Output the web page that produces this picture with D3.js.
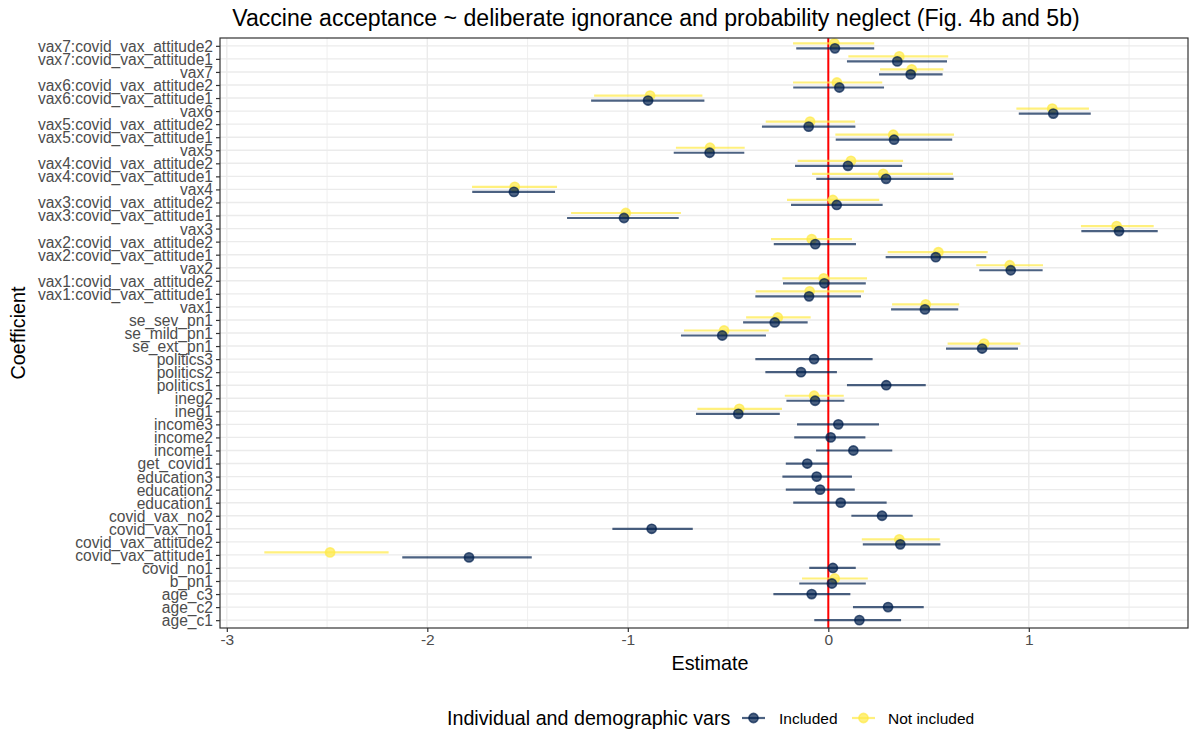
<!DOCTYPE html>
<html><head><meta charset="utf-8">
<script src="https://cdn.jsdelivr.net/npm/d3@7"></script>
<style>body{margin:0;background:#fff}svg{display:block;font-family:"Liberation Sans",Arial,sans-serif}</style>
</head><body><svg id="c" width="1203" height="733"></svg>
<script>
// categories, bottom to top
const categories = ["age_c1","age_c2","age_c3","b_pn1","covid_no1","covid_vax_attitude1","covid_vax_attitude2","covid_vax_no1","covid_vax_no2","education1","education2","education3","get_covid1","income1","income2","income3","ineg1","ineg2","politics1","politics2","politics3","se_ext_pn1","se_mild_pn1","se_sev_pn1","vax1","vax1:covid_vax_attitude1","vax1:covid_vax_attitude2","vax2","vax2:covid_vax_attitude1","vax2:covid_vax_attitude2","vax3","vax3:covid_vax_attitude1","vax3:covid_vax_attitude2","vax4","vax4:covid_vax_attitude1","vax4:covid_vax_attitude2","vax5","vax5:covid_vax_attitude1","vax5:covid_vax_attitude2","vax6","vax6:covid_vax_attitude1","vax6:covid_vax_attitude2","vax7","vax7:covid_vax_attitude1","vax7:covid_vax_attitude2"];
// Included series
const incEst = [0.155,0.298,-0.083,0.018,0.023,-1.792,0.359,-0.881,0.268,0.062,-0.041,-0.058,-0.105,0.125,0.012,0.05,-0.449,-0.066,0.289,-0.136,-0.071,0.767,-0.529,-0.267,0.482,-0.096,-0.02,0.91,0.536,-0.065,1.45,-1.019,0.042,-1.568,0.288,0.098,-0.592,0.328,-0.098,1.122,-0.899,0.055,0.411,0.344,0.033];
const incLo  = [-0.07,0.123,-0.274,-0.145,-0.095,-2.125,0.172,-1.077,0.115,-0.175,-0.212,-0.229,-0.212,-0.061,-0.17,-0.156,-0.66,-0.209,0.093,-0.314,-0.364,0.587,-0.735,-0.425,0.313,-0.364,-0.226,0.753,0.286,-0.272,1.262,-1.303,-0.186,-1.776,-0.06,-0.166,-0.771,0.037,-0.331,0.95,-1.183,-0.175,0.253,0.093,-0.16];
const incHi  = [0.363,0.476,0.11,0.187,0.137,-1.479,0.559,-0.676,0.421,0.291,0.132,0.118,0.0,0.319,0.185,0.253,-0.242,0.08,0.486,0.043,0.221,0.946,-0.311,-0.103,0.648,0.163,0.187,1.069,0.788,0.138,1.643,-0.746,0.271,-1.363,0.625,0.368,-0.419,0.618,0.135,1.309,-0.618,0.278,0.570,0.592,0.229];
// Not included series (null = not estimated)
const notEst = [null,null,null,0.032,null,-2.485,0.354,null,null,null,null,null,null,null,null,null,-0.444,-0.071,null,null,null,0.777,-0.52,-0.252,0.486,-0.093,-0.023,0.905,0.549,-0.083,1.438,-1.01,0.023,-1.564,0.274,0.113,-0.590,0.324,-0.091,1.117,-0.889,0.043,0.416,0.354,0.03];
const notLo  = [null,null,null,-0.131,null,-2.813,0.167,null,null,null,null,null,null,null,null,null,-0.653,-0.217,null,null,null,0.595,-0.72,-0.41,0.318,-0.362,-0.229,0.738,0.296,-0.286,1.26,-1.283,-0.206,-1.777,-0.081,-0.153,-0.76,0.035,-0.312,0.938,-1.168,-0.176,0.258,0.10,-0.176];
const notHi  = [null,null,null,0.197,null,-2.193,0.556,null,null,null,null,null,null,null,null,null,-0.231,0.077,null,null,null,0.958,-0.297,-0.088,0.653,0.178,0.193,1.071,0.795,0.118,1.623,-0.735,0.254,-1.353,0.622,0.373,-0.417,0.627,0.133,1.30,-0.628,0.269,0.574,0.598,0.229];
const xTicks = [-3,-2,-1,0,1];
const xTickLabels = ["-3","-2","-1","0","1"];
const xMinor = [-2.5,-1.5,-0.5,0.5,1.5];
const seriesNames = ["Included","Not included"];
const seriesColors = ["#00204D","#FFEA46"];

const svg = d3.select("#c");
const L=220, R=1188, T=38, B=628;
const x = d3.scaleLinear().domain([-3.034,1.794]).range([L,R]);
const y = d3.scalePoint().domain(categories.slice().reverse()).range([T,B]).padding(0.6);

// grid
const g = svg.append("g");
g.selectAll(".gx").data(xMinor).join("line").attr("x1",d=>x(d)).attr("x2",d=>x(d)).attr("y1",T).attr("y2",B).attr("stroke","#ebebeb").attr("stroke-width",0.8);
g.selectAll(".gX").data(xTicks).join("line").attr("x1",d=>x(d)).attr("x2",d=>x(d)).attr("y1",T).attr("y2",B).attr("stroke","#ebebeb").attr("stroke-width",1.4);
g.selectAll(".gy").data(categories).join("line").attr("x1",L).attr("x2",R).attr("y1",d=>y(d)).attr("y2",d=>y(d)).attr("stroke","#ebebeb").attr("stroke-width",1.4);

// red zero line
svg.append("line").attr("x1",x(0)).attr("x2",x(0)).attr("y1",T).attr("y2",B).attr("stroke","#ff0000").attr("stroke-width",2);

// data rows
function rows(est,lo,hi,s){return categories.map((c,i)=>({c,est:est[i],lo:lo[i],hi:hi[i],s,i})).filter(d=>d.est!==null);}
const inc = rows(incEst,incLo,incHi,0), not = rows(notEst,notLo,notHi,1);
const paired = new Set(not.map(d=>d.c));
const off = d => paired.has(d.c) ? (d.s===0 ? 2.5 : -2.5) : 0;
const alpha = 0.7;
[not, inc].forEach(data=>{
  const gg = svg.append("g");
  gg.selectAll("line").data(data).join("line")
    .attr("x1",d=>x(d.lo)).attr("x2",d=>x(d.hi))
    .attr("y1",d=>y(d.c)+off(d)).attr("y2",d=>y(d.c)+off(d))
    .attr("stroke",d=>seriesColors[d.s]).attr("stroke-opacity",alpha).attr("stroke-width",2.2);
  gg.selectAll("circle").data(data).join("circle")
    .attr("cx",d=>x(d.est)).attr("cy",d=>y(d.c)+off(d)).attr("r",4.6)
    .attr("fill",d=>seriesColors[d.s]).attr("fill-opacity",alpha)
    .attr("stroke",d=>seriesColors[d.s]).attr("stroke-opacity",alpha).attr("stroke-width",1.6);
});

// panel border
svg.append("rect").attr("x",L).attr("y",T).attr("width",R-L).attr("height",B-T).attr("fill","none").attr("stroke","#333333").attr("stroke-width",1.2);

// axes
const xa = svg.append("g").attr("transform",`translate(0,${B})`).call(d3.axisBottom(x).tickValues(xTicks).tickSize(4).tickFormat((d,i)=>xTickLabels[i]));
const ya = svg.append("g").attr("transform",`translate(${L},0)`).call(d3.axisLeft(y).tickSize(4).tickPadding(3));
[xa,ya].forEach(a=>{a.select(".domain").remove();a.selectAll(".tick line").attr("stroke","#333333").attr("stroke-width",1.2);a.selectAll("text").attr("fill","#4d4d4d").attr("font-family","Liberation Sans, Arial, sans-serif");});
xa.selectAll("text").attr("font-size",15.5).attr("dy","0.72em").attr("y",6);
ya.selectAll("text").attr("font-size",15.6).attr("dy","0.35em");

// titles
svg.append("text").attr("x",656).attr("y",26).attr("text-anchor","middle").attr("font-size",23.1).attr("fill","#000").text("Vaccine acceptance ~ deliberate ignorance and probability neglect (Fig. 4b and 5b)");
svg.append("text").attr("x",710).attr("y",670).attr("text-anchor","middle").attr("font-size",19.8).attr("fill","#000").text("Estimate");
svg.append("text").attr("transform",`translate(25,${(T+B)/2}) rotate(-90)`).attr("text-anchor","middle").attr("font-size",19.8).attr("fill","#000").text("Coefficient");

// legend
const lg = svg.append("g");
lg.append("text").attr("x",447).attr("y",725).attr("font-size",19.7).attr("fill","#000").text("Individual and demographic vars");
const keyX = [742, 852], labX = [779, 888];
seriesNames.forEach((n,i)=>{
  lg.append("line").attr("x1",keyX[i]).attr("x2",keyX[i]+23).attr("y1",718).attr("y2",718).attr("stroke",seriesColors[i]).attr("stroke-opacity",alpha).attr("stroke-width",2.2);
  lg.append("circle").attr("cx",keyX[i]+11.5).attr("cy",718).attr("r",4.6).attr("fill",seriesColors[i]).attr("fill-opacity",alpha).attr("stroke",seriesColors[i]).attr("stroke-opacity",alpha).attr("stroke-width",1.6);
  lg.append("text").attr("x",labX[i]).attr("y",723.5).attr("font-size",15.5).attr("fill","#000").text(n);
});
</script></body></html>
